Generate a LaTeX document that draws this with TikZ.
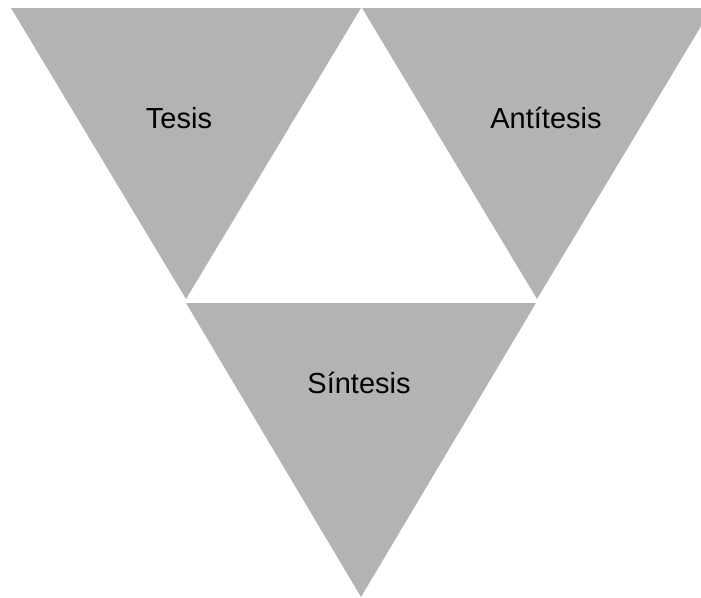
\documentclass[tikz,border=0pt]{standalone}
\usepackage{fontspec}
\setmainfont{Liberation Sans}
\definecolor{tri}{HTML}{B3B3B3}
\tikzset{
  tri/.style={fill=tri, draw=none},
  lbl/.style={anchor=base, inner sep=0pt, font=\fontsize{29}{32}\selectfont, text=black}
}
\begin{document}
\begin{tikzpicture}[x=1pt,y=-1pt]
\useasboundingbox (0,0) rectangle (701,597);
\begin{scope}
\clip (0,0) rectangle (701,597);
\fill[tri] (11,8) -- (361,8) -- (186,299) -- cycle;
\fill[tri] (362,8) -- (712,8) -- (537,299) -- cycle;
\fill[tri] (186,303) -- (536,303) -- (361,597) -- cycle;
\end{scope}
\node[lbl] (tesis) at (179,128) {Tesis};
\node[lbl] (antitesis) at (546,128) {Antítesis};
\node[lbl] (sintesis) at (359,393) {Síntesis};
\end{tikzpicture}
\end{document}
